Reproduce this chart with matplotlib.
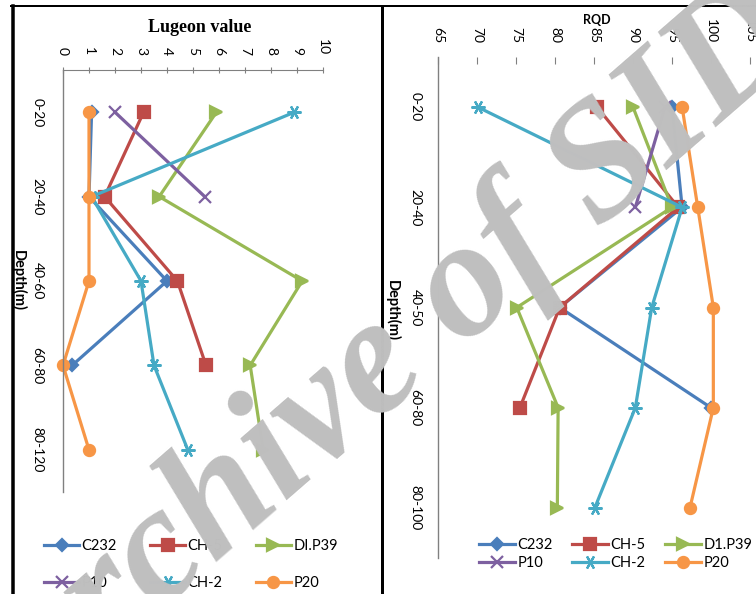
import numpy as np
import matplotlib.pyplot as plt
from matplotlib.lines import Line2D

# ---------------------------------------------------------
# Datos
# ---------------------------------------------------------
series = ["C232", "CH-5", "DI.P39", "P10", "CH-2", "P20"]
series_right = ["C232", "CH-5", "D1.P39", "P10", "CH-2", "P20"]

depth_lugeon = ["0-20", "20-40", "40-60", "60-80", "80-120"]
depth_rqd = ["0-20", "20-40", "40-50", "60-80", "80-100"]

nan = np.nan
lugeon_c232 = [1.1, 1.0, 4.0, 0.35, nan]
lugeon_ch5 = [3.1, 1.6, 4.4, 5.5, nan]
lugeon_dip39 = [5.9, 3.7, 9.2, 7.2, 7.7]
lugeon_p10 = [2.0, 5.45, nan, nan, nan]
lugeon_ch2 = [8.9, 1.1, 3.0, 3.5, 4.8]
lugeon_p20 = [1.0, 1.0, 1.0, 0.0, 1.0]

rqd_c232 = [95.0, 96.3, 80.6, 100.0, nan]
rqd_ch5 = [85.4, 95.8, 80.6, 75.5, nan]
rqd_dip39 = [90.0, 95.0, 75.1, 80.4, 80.3]
rqd_p10 = [94.1, 90.3, nan, nan, nan]
rqd_ch2 = [70.1, 96.3, 92.4, 90.3, 85.1]
rqd_p20 = [96.3, 98.3, 100.3, 100.3, 97.3]

lugeon_ticks = list(range(0, 11))
rqd_ticks = list(range(65, 106, 5))

colors = ["#4a7ebb", "#be4b48", "#98b954", "#7d60a0", "#46aac5", "#f79646"]
markers = ["D", "s", ">", "x", (6, 2, 30), "o"]
msizes = [6, 9, 8, 9, 10, 8]

W, H = 756, 594
plt.rcParams["font.family"] = ["Lato", "DejaVu Sans"]

fig = plt.figure(figsize=(W / 100, H / 100), dpi=100)


def px_box(x0, y0, x1, y1):
    return [x0 / W, 1 - y1 / H, (x1 - x0) / W, (y1 - y0) / H]


def draw_panel(ax, cats, values, labels):
    idx = np.arange(len(cats))
    handles = []
    for vals, lab, c, m, ms in zip(values, labels, colors, markers, msizes):
        h, = ax.plot(vals, idx, color=c, lw=2.3, marker=m, ms=ms,
                     mec=c, mfc=c, mew=1.6, label=lab, clip_on=False)
        handles.append(h)
    ax.set_ylim(len(cats) - 0.5, -0.5)
    ax.set_yticks(idx)
    ax.set_yticklabels(cats, rotation=-90, va="center", fontsize=10)
    ax.xaxis.tick_top()
    for s in ["right", "bottom"]:
        ax.spines[s].set_visible(False)
    ax.spines["left"].set_color("#808080")
    ax.spines["left"].set_linewidth(1.0)
    ax.tick_params(axis="y", length=0)
    return handles


# ---------------------------------------------------------
# Panel izquierdo: valor Lugeon
# ---------------------------------------------------------
ax1 = fig.add_axes(px_box(63, 70, 323, 492))
h1 = draw_panel(ax1, depth_lugeon,
                [lugeon_c232, lugeon_ch5, lugeon_dip39, lugeon_p10, lugeon_ch2, lugeon_p20],
                series)
ax1.set_xlim(0, 10)
ax1.set_xticks(lugeon_ticks)
ax1.set_xticklabels([str(t) for t in lugeon_ticks], rotation=-90, fontsize=10)
ax1.spines["top"].set_color("#808080")
ax1.tick_params(axis="x", direction="inout", length=5, color="#808080", pad=8)
ax1.tick_params(axis="y", pad=14)
fig.text(200 / W, 1 - 28 / H, "Lugeon value", ha="center", va="center",
         family="Liberation Serif", weight="bold", fontsize=13)
fig.text(18 / W, 1 - 280 / H, "Depth(m)", ha="center", va="center",
         rotation=-90, weight="bold", fontsize=10.5)

# ---------------------------------------------------------
# Panel derecho: RQD
# ---------------------------------------------------------
ax2 = fig.add_axes(px_box(438, 57, 750, 558))
h2 = draw_panel(ax2, depth_rqd,
                [rqd_c232, rqd_ch5, rqd_dip39, rqd_p10, rqd_ch2, rqd_p20],
                series_right)
ax2.set_xlim(65, 105)
ax2.set_xticks(rqd_ticks)
ax2.set_xticklabels([str(t) for t in rqd_ticks], rotation=-90, fontsize=10)
ax2.spines["top"].set_visible(False)
ax2.tick_params(axis="x", direction="in", length=5, color="#808080", pad=10)
ax2.tick_params(axis="y", pad=12)
fig.text(597 / W, 1 - 20 / H, "RQD", ha="center", va="center",
         weight="bold", fontsize=9)
fig.text(392 / W, 1 - 310 / H, "Depth(m)", ha="center", va="center",
         rotation=-90, weight="bold", fontsize=10.5)

# leyendas (orden por filas)
order = [0, 3, 1, 4, 2, 5]
fig.legend([h1[i] for i in order], [series[i] for i in order],
           loc="upper left", bbox_to_anchor=(44 / W, 1 - 539 / H), ncol=3,
           frameon=False, fontsize=10.5, handlelength=2.4, handletextpad=0.15,
           columnspacing=2.3, labelspacing=1.6, borderaxespad=0, borderpad=0)
fig.legend([h2[i] for i in order], [series_right[i] for i in order],
           loc="upper left", bbox_to_anchor=(479 / W, 1 - 538 / H), ncol=3,
           frameon=False, fontsize=10.5, handlelength=2.5, handletextpad=0.15,
           columnspacing=1.3, labelspacing=0.3, borderaxespad=0, borderpad=0)

# marcos negros
for xs, ys, lw in [((12.5, 12.5), (6, H), 3.5),
                   ((381.5, 381.5), (6, H), 3.0),
                   ((11, W), (6, 6), 2.0)]:
    fig.add_artist(Line2D([x / W for x in xs], [1 - y / H for y in ys],
                          color="black", lw=lw * 0.72, transform=fig.transFigure))

# marca de agua
fig.text(392 / W, 1 - 362 / H, "Archive of SID", ha="center", va="center",
         rotation=41, family="Liberation Serif", weight="bold", style="italic",
         fontsize=120, color="#bfbfbf", zorder=10)

fig.savefig("out.png", dpi=100)
